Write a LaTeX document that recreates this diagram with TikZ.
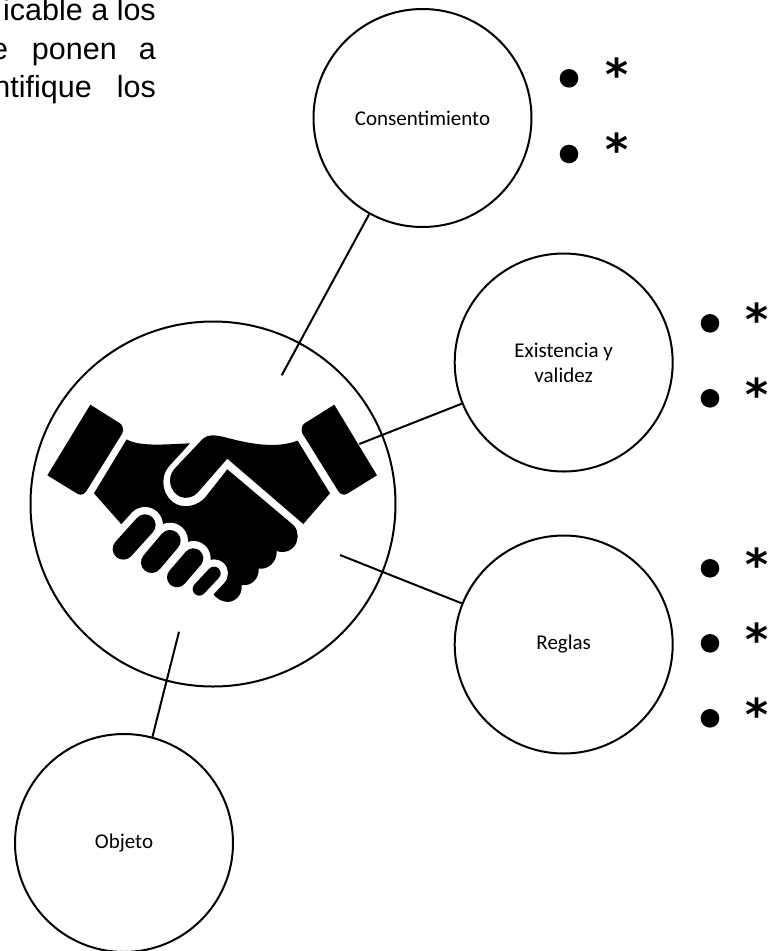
\documentclass[tikz,border=0pt]{standalone}
\usepackage{fontspec}
\setmainfont{Liberation Sans}
\newfontfamily\labelfont{Carlito}
\newfontfamily\starfont{DejaVu Sans Bold}
\begin{document}
\begin{tikzpicture}[x=1pt,y=-1pt,
  bubble/.style={draw=black,circle,line width=2pt,inner sep=0pt,minimum size=#1,align=center,font=\labelfont\fontsize{21}{25}\selectfont},
  conn/.style={draw=black,line width=2pt},
  dotmark/.style={circle,fill=black,inner sep=0pt,minimum size=18.6pt},
  star/.style={inner sep=0pt,anchor=base,font=\starfont\fontsize{44}{44}\selectfont},
  bodytext/.style={inner sep=0pt,anchor=base east,font=\fontsize{30.5}{36}\selectfont},
  hand/.style={fill=black,draw=none}]
\useasboundingbox (0,0) rectangle (769,951);
\fill[white] (0,0) rectangle (769,951);
% top-left cropped text
\node[bodytext] (t1) at (156,20) {icable a los};
\node[bodytext] (t2) at (156,59) {\hbox{e\kern24pt ponen\kern22pt a}};
\node[bodytext] (t3) at (156,97) {\hbox{ntifique\kern25pt los}};
% circles
\node[bubble=365pt] (main) at (213,504) {};
\node[bubble=218pt] (cons) at (422.5,118) {Consentimiento};
\node[bubble=218pt] (exis) at (563.7,362.5) {Existencia y\\validez};
\node[bubble=218pt] (regl) at (563.7,644.5) {Reglas};
\node[bubble=218pt] (obj) at (124,843) {Objeto};
% free ends inside the main circle
\coordinate (c1) at (281.7,375.3);
\coordinate (c2) at (359.3,444);
\coordinate (c3) at (340,555);
\coordinate (c4) at (179,631.7);
\draw[conn] (c1) -- (cons.241.5);
\draw[conn] (c2) -- (exis.202);
\draw[conn] (c3) -- (regl.158);
\draw[conn] (c4) -- (obj.75.5);
% handshake
\begin{scope}[shift={(30,370)},x=0.3333pt,y=-0.3333pt]
\path[hand] (181,104) -- (270,160) .. controls (279,166) and (281,178) .. (277,190) -- (170,362) .. controls (163,374) and (152,377) .. (142,371) -- (52,316) -- cycle;
\path[hand] (913,104) -- (824,160) .. controls (815,166) and (813,178) .. (817,190) -- (924,362) .. controls (931,374) and (942,377) .. (952,371) -- (1041,316) -- cycle;
\path[hand] (290,208) .. controls (330,232) and (420,222) .. (480,220) -- (418,288) .. controls (385,325) and (400,385) .. (440,403) .. controls (470,416) and (505,405) .. (525,383) -- (592,298) -- (790,465) .. controls (808,482) and (808,520) .. (785,537) .. controls (770,548) and (752,548) .. (740,543)
 .. controls (742,575) and (715,600) .. (686,596)
 .. controls (688,625) and (665,650) .. (635,645)
 .. controls (638,680) and (610,700) .. (585,695) .. controls (572,692) and (560,685) .. (552,675) -- (500,600) -- (300,500) -- (270,458) -- (192,370) -- cycle;
\path[hand] (803,212) .. controls (750,232) and (690,225) .. (640,215) .. controls (600,207) and (575,197) .. (550,196) .. controls (535,196) and (525,200) .. (515,210) -- (432,298) .. controls (410,325) and (420,365) .. (450,380) .. controls (470,388) and (490,382) .. (503,368) -- (592,266) -- (820,462) -- (900,370) -- cycle;
\foreach \ax/\ay/\bx/\by/\r in {280/537/345/465/32, 365/577/420/512/32, 441/622/490/565/30, 508/657/552/610/20}{
  \draw[white,line width=\r*2/3+14.6pt,line cap=round] (\ax,\ay) -- (\bx,\by);
}
\foreach \ax/\ay/\bx/\by/\r in {280/537/345/465/32, 365/577/420/512/32, 441/622/490/565/30, 508/657/552/610/20}{
  \draw[black,line width=\r*2/3,line cap=round] (\ax,\ay) -- (\bx,\by);
}
\end{scope}
% bullets and stars
\node[dotmark] (b1) at (569,78.3) {};
\node[dotmark] (b2) at (569,154) {};
\node[star] (s1) at (616.7,90) {*};
\node[star] (s2) at (616.7,165.4) {*};
\node[dotmark] (b3) at (710,323.3) {};
\node[dotmark] (b4) at (710,398.3) {};
\node[star] (s3) at (757.3,335) {*};
\node[star] (s4) at (757.3,410.4) {*};
\node[dotmark] (b5) at (710,568.3) {};
\node[dotmark] (b6) at (710,643.3) {};
\node[dotmark] (b7) at (710,718.3) {};
\node[star] (s5) at (757.3,580) {*};
\node[star] (s6) at (757.3,655) {*};
\node[star] (s7) at (757.3,730) {*};
\end{tikzpicture}
\end{document}
